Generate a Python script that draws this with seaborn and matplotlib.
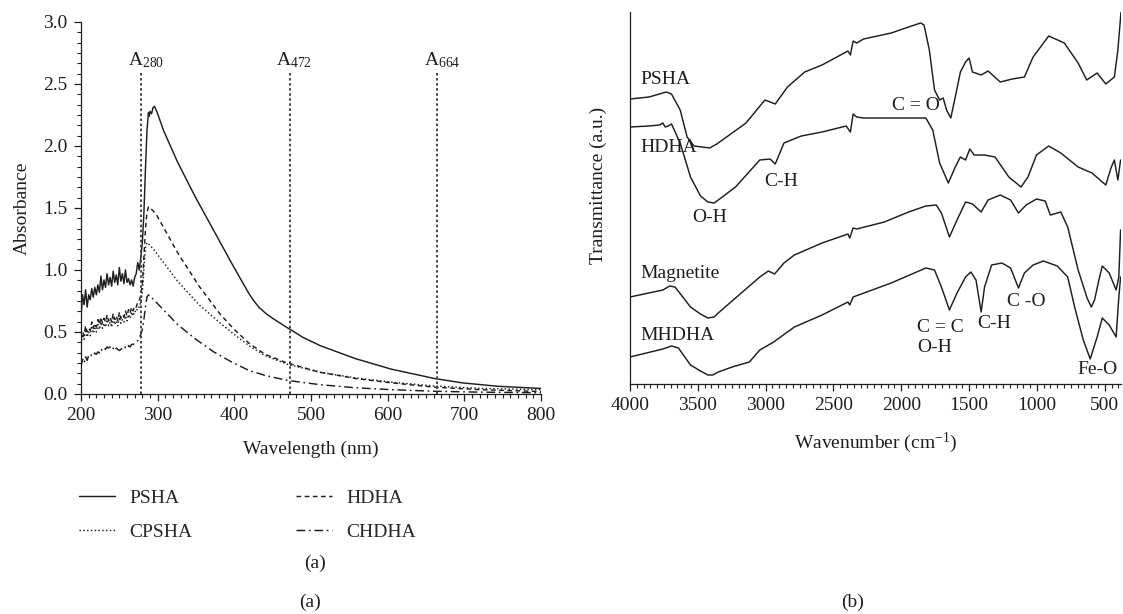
import numpy as np
import pandas as pd
import matplotlib
matplotlib.use("Agg")
import matplotlib.pyplot as plt
from matplotlib.ticker import MultipleLocator, AutoMinorLocator, FormatStrFormatter
import seaborn as sns

# ---------------- data: panel (a) UV-Vis ----------------
noise_wl = list(range(200, 280, 2))

psha_wl = noise_wl + [280, 282, 284, 286, 288, 289, 290, 292, 294, 296, 300, 308, 326, 349, 373,
                      396, 419, 425, 432, 442, 450, 469, 490, 512, 558, 605, 661, 697, 744, 800]
psha_abs = [0.62, 0.80, 0.72, 0.84, 0.70, 0.80, 0.76, 0.85, 0.78, 0.86,
            0.80, 0.88, 0.82, 0.95, 0.84, 0.92, 0.86, 0.97, 0.88, 0.94,
            0.87, 0.99, 0.90, 0.96, 0.88, 1.02, 0.91, 0.97, 0.89, 1.00,
            0.90, 0.93, 0.88, 0.92, 0.87, 0.94, 0.97, 1.06, 1.00, 1.10,
            1.22, 1.45, 1.80, 2.12, 2.27, 2.24, 2.28, 2.26, 2.31, 2.32, 2.26, 2.12, 1.87, 1.59, 1.32,
            1.06, 0.81, 0.755, 0.70, 0.645, 0.61, 0.535, 0.455, 0.39, 0.285, 0.20, 0.125, 0.09, 0.062, 0.045]

hdha_wl = noise_wl + [280, 282, 284, 286, 288, 292, 298, 326, 354, 382, 400, 419, 440, 469,
                      512, 558, 605, 661, 720, 800]
hdha_abs = [0.44, 0.50, 0.47, 0.55, 0.50, 0.53, 0.51, 0.58, 0.53, 0.57,
            0.54, 0.60, 0.56, 0.62, 0.57, 0.61, 0.58, 0.64, 0.59, 0.62,
            0.58, 0.65, 0.60, 0.63, 0.59, 0.66, 0.61, 0.64, 0.62, 0.67,
            0.63, 0.68, 0.65, 0.70, 0.67, 0.71, 0.70, 0.74, 0.75, 0.80,
            0.88, 1.10, 1.32, 1.46, 1.51, 1.49, 1.45, 1.14, 0.87, 0.64, 0.52, 0.41, 0.32, 0.25,
            0.175, 0.125, 0.09, 0.055, 0.035, 0.02]

cpsha_wl = noise_wl + [280, 282, 284, 286, 290, 298, 326, 354, 382, 400, 419, 440, 469,
                       512, 558, 605, 661, 720, 800]
cpsha_abs = [0.40, 0.48, 0.44, 0.52, 0.46, 0.50, 0.47, 0.55, 0.49, 0.53,
             0.50, 0.56, 0.52, 0.58, 0.53, 0.57, 0.54, 0.60, 0.55, 0.58,
             0.54, 0.61, 0.56, 0.59, 0.55, 0.62, 0.57, 0.60, 0.58, 0.63,
             0.59, 0.64, 0.61, 0.66, 0.63, 0.67, 0.66, 0.70, 0.70, 0.74,
             0.82, 1.00, 1.18, 1.22, 1.20, 1.14, 0.91, 0.72, 0.57, 0.48, 0.39, 0.31, 0.24,
             0.175, 0.13, 0.095, 0.065, 0.045, 0.035]

chdha_wl = noise_wl + [280, 282, 284, 286, 288, 295, 326, 350, 373, 396, 419, 440, 469,
                       512, 558, 605, 661, 720, 800]
chdha_abs = [0.22, 0.28, 0.25, 0.30, 0.27, 0.31, 0.30, 0.32, 0.31, 0.33,
             0.32, 0.34, 0.33, 0.36, 0.35, 0.37, 0.36, 0.38, 0.37, 0.38,
             0.36, 0.37, 0.35, 0.37, 0.36, 0.35, 0.36, 0.37, 0.36, 0.38,
             0.37, 0.39, 0.38, 0.40, 0.40, 0.41, 0.42, 0.43, 0.45, 0.48,
             0.52, 0.60, 0.70, 0.78, 0.80, 0.76, 0.56, 0.44, 0.34, 0.26, 0.19, 0.15, 0.11,
             0.075, 0.05, 0.035, 0.022, 0.015, 0.01]

marker_wl = [278, 472, 664]
marker_labels = ["A$_{280}$", "A$_{472}$", "A$_{664}$"]

# ---------------- data: panel (b) FTIR ----------------
psha_wn = [4000, 3860, 3732, 3694, 3630, 3579, 3528, 3470, 3413, 3360, 3298, 3145, 3005, 2929, 2839,
           2712, 2584, 2393, 2375, 2355, 2329, 2278, 2074, 1946, 1857, 1832, 1793, 1755, 1717, 1691,
           1666, 1635, 1602, 1564, 1526, 1500, 1475, 1411, 1360, 1270, 1181, 1092, 1028, 913, 798,
           696, 633, 556, 492, 429, 403, 380]
psha_tr = [285, 287, 292, 290, 274, 247, 238, 237, 236, 240, 246, 261, 284, 280, 297,
           312, 319, 333, 329, 343, 341, 345, 351, 357, 361, 359, 334, 294, 284, 286,
           274, 266, 287, 312, 322, 326, 312, 309, 313, 302, 305, 307, 327, 348, 341,
           321, 304, 311, 300, 307, 334, 372]

hdha_wn = [4000, 3860, 3783, 3758, 3740, 3719, 3694, 3630, 3554, 3480, 3426, 3380, 3349, 3222, 3043,
           2967, 2929, 2865, 2737, 2584, 2406, 2375, 2355, 2329, 2278, 1819, 1768, 1717, 1653, 1602,
           1564, 1526, 1495, 1462, 1386, 1309, 1207, 1117, 1066, 1003, 913, 824, 696, 594, 492,
           454, 429, 403, 383]
hdha_tr = [257, 258, 259, 261, 257, 258, 260, 241, 207, 188, 182, 181, 184, 197, 224,
           225, 220, 241, 248, 252, 258, 252, 270, 267, 266, 266, 254, 221, 201, 217,
           227, 224, 235, 229, 229, 227, 207, 197, 207, 229, 238, 231, 217, 211, 199,
           216, 224, 204, 224]

magn_wn = [4000, 3758, 3707, 3668, 3554, 3480, 3426, 3380, 3349, 3222, 3043, 2980, 2934, 2865, 2788,
           2584, 2393, 2380, 2355, 2329, 2125, 1946, 1819, 1742, 1704, 1645, 1589, 1526, 1475, 1411,
           1360, 1270, 1194, 1136, 1079, 1003, 939, 901, 824, 773, 696, 630, 599, 575, 543, 518,
           467, 416, 396, 383]
magn_tr = [87, 94, 98, 97, 77, 70, 66, 67, 71, 86, 107, 113, 110, 121, 129,
           141, 150, 146, 156, 155, 162, 172, 178, 179, 171, 147, 164, 182, 180, 172,
           184, 189, 184, 171, 179, 185, 183, 169, 172, 157, 114, 86, 77, 84, 104, 118,
           111, 94, 107, 154]

mhdha_wn = [4000, 3758, 3694, 3643, 3554, 3480, 3426, 3390, 3349, 3247, 3120, 3043, 2941, 2788, 2584,
            2393, 2380, 2355, 2074, 1819, 1755, 1704, 1645, 1589, 1526, 1487, 1449, 1411, 1386, 1334,
            1258, 1194, 1136, 1092, 1028, 952, 850, 773, 722, 658, 607, 556, 518, 467, 416, 396, 383]
mhdha_tr = [27, 35, 38, 36, 19, 13, 9, 9, 12, 17, 22, 34, 42, 57, 69,
            82, 79, 87, 101, 116, 114, 97, 74, 91, 107, 112, 104, 72, 97, 119,
            121, 116, 96, 111, 119, 123, 118, 107, 77, 44, 25, 47, 66, 59, 47, 87, 107]

# ---------------- style ----------------
sns.set_theme(style="ticks")
plt.rcParams["font.family"] = ["Liberation Serif", "DejaVu Serif"]
plt.rcParams["mathtext.fontset"] = "custom"
plt.rcParams["mathtext.rm"] = "Liberation Serif"
plt.rcParams["mathtext.it"] = "Liberation Serif"
plt.rcParams["axes.unicode_minus"] = False

INK = "#1e1e1e"
FS = 14

fig = plt.figure(figsize=(11.23, 6.14), dpi=100)
W, H = 1123, 614
axa = fig.add_axes([81 / W, (H - 394) / H, 460 / W, 372 / H])
axb = fig.add_axes([630 / W, (H - 384) / H, 491 / W, 372 / H])

# ---------------- panel (a) ----------------
series_a = [
    ("PSHA", psha_wl, psha_abs, "-"),
    ("CPSHA", cpsha_wl, cpsha_abs, (0, (1, 1.6))),
    ("HDHA", hdha_wl, hdha_abs, (0, (3.2, 2.4))),
    ("CHDHA", chdha_wl, chdha_abs, (0, (6, 2.5, 1.2, 2.5))),
]
for name, xs, ys, ls in series_a:
    df = pd.DataFrame({"wl": xs, "A": ys})
    sns.lineplot(data=df, x="wl", y="A", ax=axa, color=INK, lw=1.05,
                 linestyle=ls, label=name, errorbar=None)

for wl, lab in zip(marker_wl, marker_labels):
    axa.plot([wl, wl], [0, 2.59], color="#444444", lw=1.4, linestyle=(0, (1.3, 1.3)))
    axa.text(wl - 17, 2.65, lab, fontsize=FS, color=INK, ha="left", va="baseline")

axa.set_xlim(200, 800)
axa.set_ylim(0, 3.0)
axa.xaxis.set_major_locator(MultipleLocator(100))
axa.xaxis.set_minor_locator(MultipleLocator(10))
axa.yaxis.set_major_locator(MultipleLocator(0.5))
axa.yaxis.set_minor_locator(AutoMinorLocator(6))
axa.yaxis.set_major_formatter(FormatStrFormatter("%.1f"))
axa.set_xlabel("Wavelength (nm)", fontsize=FS, color=INK)
axa.set_ylabel("Absorbance", fontsize=FS, color=INK)
axa.xaxis.set_label_coords(0.5, -0.125)
axa.yaxis.set_label_coords(-0.11, 0.5)

handles, labels = axa.get_legend_handles_labels()
if axa.get_legend() is not None:
    axa.get_legend().remove()
order = ["PSHA", "CPSHA", "HDHA", "CHDHA"]
hmap = dict(zip(labels, handles))
fig.legend([hmap[k] for k in order], order, loc="upper left",
           bbox_to_anchor=(79 / W, (H - 489) / H), ncol=2, frameon=False,
           fontsize=FS, handlelength=1.85, handletextpad=0.75, columnspacing=5.3,
           labelspacing=0.85, borderpad=0, borderaxespad=0)

# ---------------- panel (b) ----------------
series_b = [
    ("PSHA", psha_wn, psha_tr),
    ("HDHA", hdha_wn, hdha_tr),
    ("Magnetite", magn_wn, magn_tr),
    ("MHDHA", mhdha_wn, mhdha_tr),
]
for name, xs, ys in series_b:
    df = pd.DataFrame({"wn": xs, "T": ys})
    sns.lineplot(data=df, x="wn", y="T", ax=axb, color=INK, lw=1.05, errorbar=None)

axb.set_xlim(4000, 380)
axb.set_ylim(0, 372)
axb.xaxis.set_major_locator(MultipleLocator(500))
axb.xaxis.set_minor_locator(MultipleLocator(50))
axb.set_yticks([])
axb.set_xlabel("Wavenumber (cm$^{-1}$)", fontsize=FS, color=INK)
axb.set_ylabel("Transmittance (a.u.)", fontsize=FS, color=INK)
axb.xaxis.set_label_coords(0.5, -0.125)
axb.yaxis.set_label_coords(-0.047, 0.535)

annots = [
    ("PSHA", 3925, 305, "left"),
    ("HDHA", 3925, 237, "left"),
    ("C-H", 2883, 202, "center"),
    ("O-H", 3413, 166, "center"),
    ("C = O", 1890, 279, "center"),
    ("Magnetite", 3925, 111, "left"),
    ("MHDHA", 3925, 49, "left"),
    ("C = C", 1883, 57, "left"),
    ("O-H", 1883, 36, "left"),
    ("C-H", 1316, 60, "center"),
    ("C -O", 1079, 82, "center"),
    ("Fe-O", 556, 15, "center"),
]
for txt, x, y, ha in annots:
    axb.text(x, y, txt, fontsize=FS, color=INK, ha=ha, va="center")

for ax in (axa, axb):
    sns.despine(ax=ax)
    for sp in ("left", "bottom"):
        ax.spines[sp].set_color(INK)
        ax.spines[sp].set_linewidth(0.9)
    ax.tick_params(which="major", direction="out", length=5, width=0.9, colors=INK,
                   labelsize=FS, pad=4.5)
    ax.tick_params(which="minor", direction="out", length=3, width=0.8, colors=INK)
    ax.set_facecolor("white")

fig.text(315 / W, 1 - 563 / H, "(a)", fontsize=FS, color=INK, ha="center", va="center")
fig.text(310 / W, 1 - 602 / H, "(a)", fontsize=FS, color=INK, ha="center", va="center")
fig.text(853 / W, 1 - 602 / H, "(b)", fontsize=FS, color=INK, ha="center", va="center")

fig.savefig("out.png", dpi=100, facecolor="white")
